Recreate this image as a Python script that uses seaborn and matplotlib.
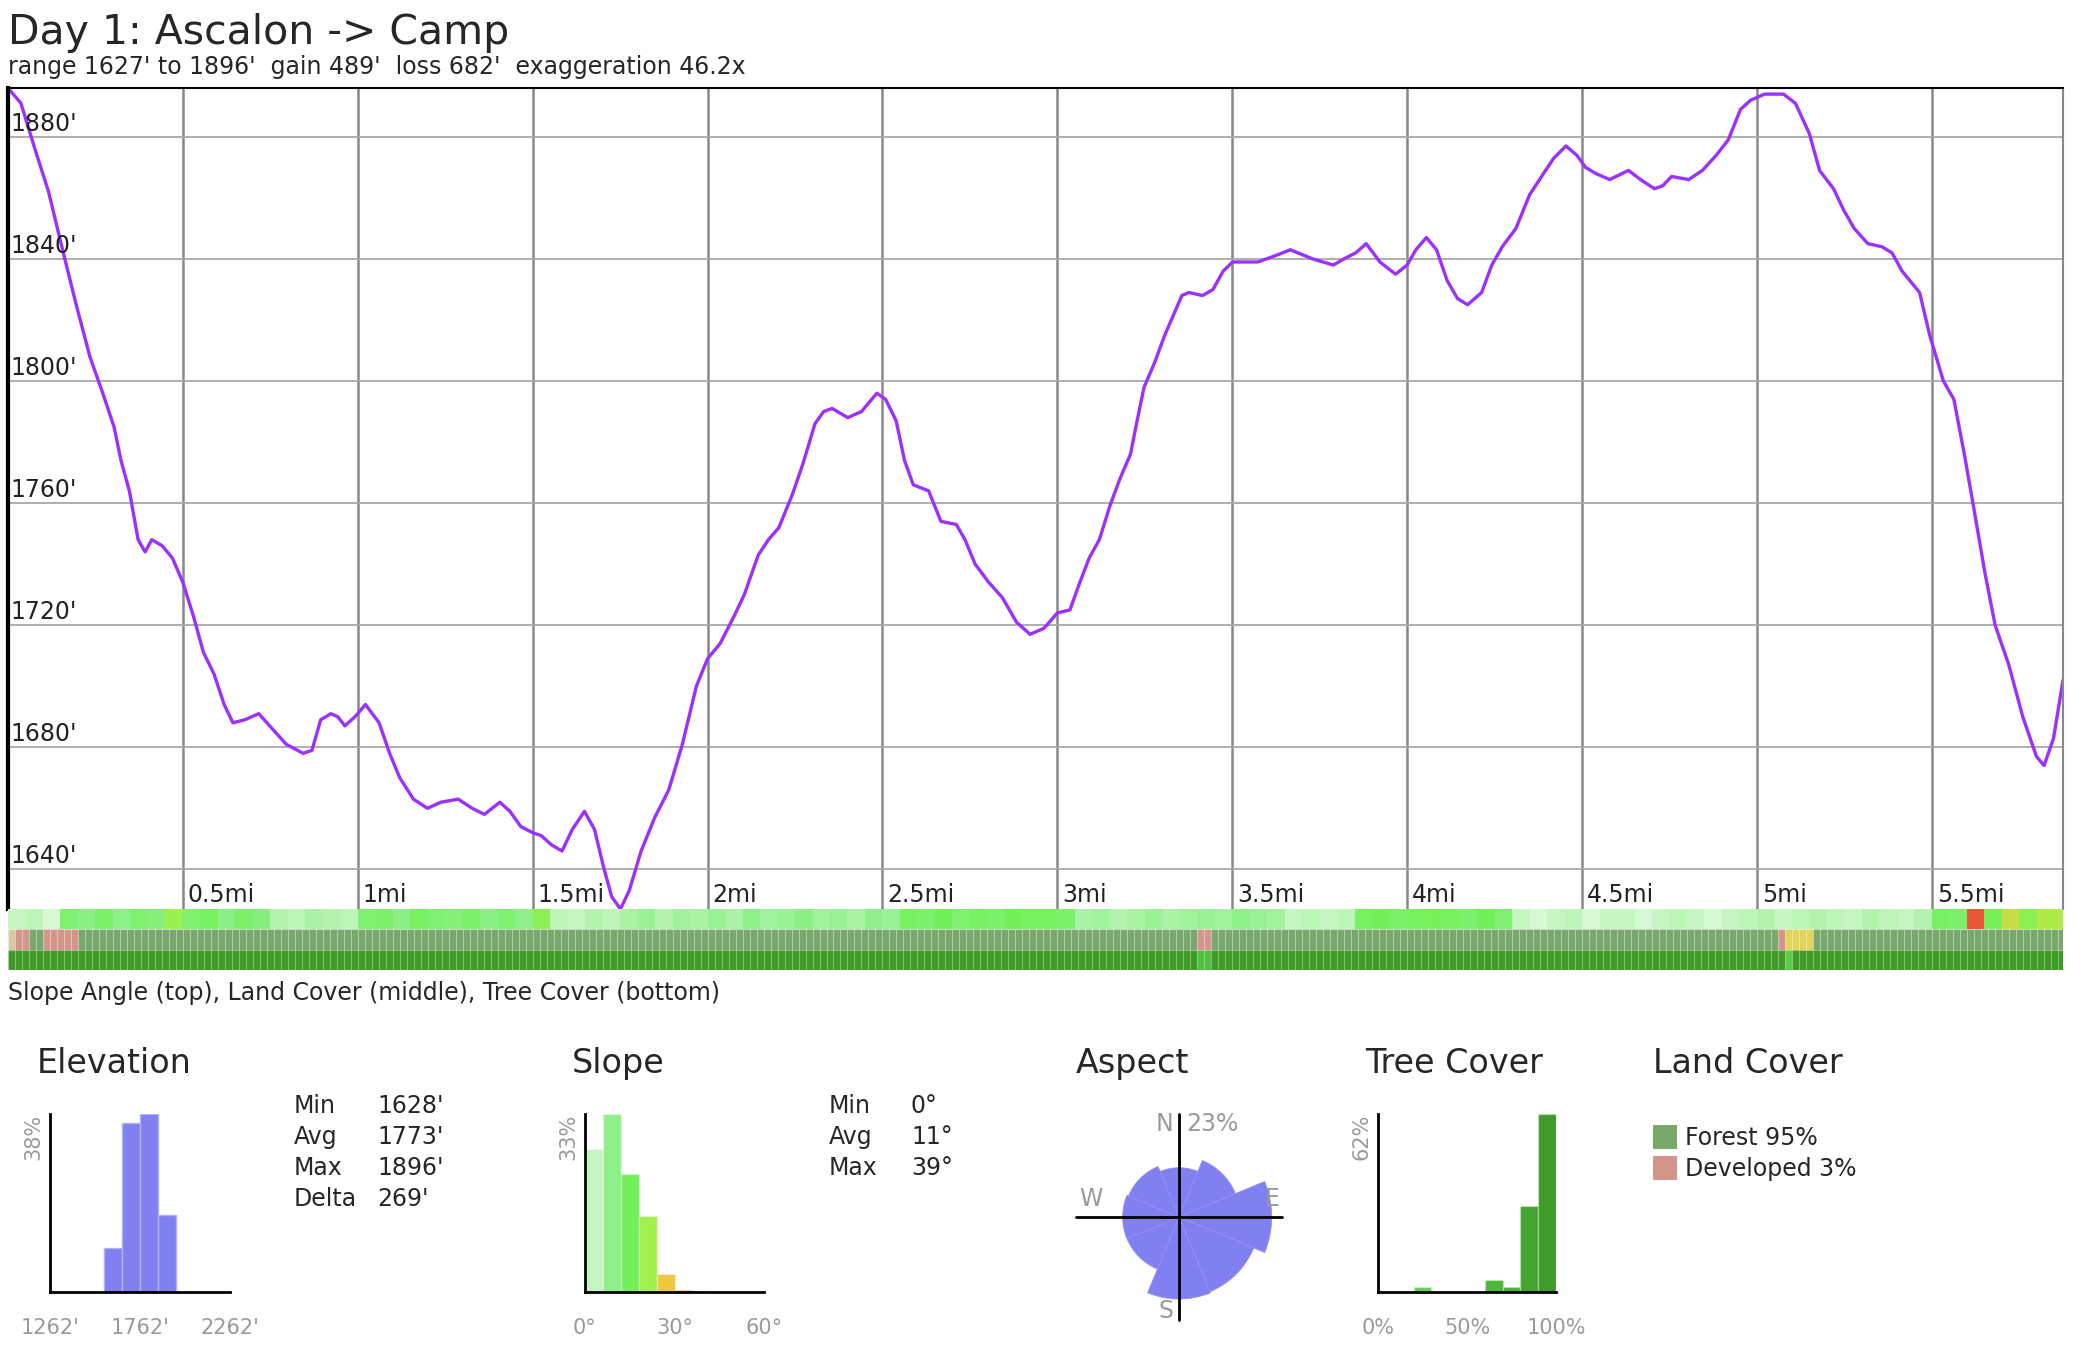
import numpy as np
import matplotlib
matplotlib.use("Agg")
import matplotlib.pyplot as plt
import matplotlib.colors as mcolors
from matplotlib.patches import Rectangle
import seaborn as sns

# ---- elevation profile (miles, feet) ----
dist = [0.000, 0.037, 0.077, 0.116, 0.156, 0.195, 0.234, 0.274, 0.303, 0.323,
        0.347, 0.372, 0.392, 0.411, 0.441, 0.470, 0.500, 0.530, 0.559, 0.589,
        0.618, 0.643, 0.677, 0.717, 0.756, 0.795, 0.844, 0.869, 0.894, 0.923,
        0.943, 0.963, 0.992, 1.022, 1.061, 1.091, 1.120, 1.159, 1.199, 1.238,
        1.287, 1.327, 1.362, 1.406, 1.435, 1.466, 1.500, 1.525, 1.554, 1.584,
        1.613, 1.648, 1.677, 1.702, 1.726, 1.751, 1.776, 1.810, 1.849, 1.889,
        1.928, 1.968, 2.000, 2.036, 2.076, 2.105, 2.145, 2.174, 2.204, 2.243,
        2.273, 2.307, 2.332, 2.356, 2.401, 2.440, 2.484, 2.509, 2.539, 2.563,
        2.588, 2.632, 2.667, 2.711, 2.736, 2.765, 2.804, 2.843, 2.883, 2.922,
        2.962, 3.000, 3.036, 3.061, 3.091, 3.120, 3.150, 3.179, 3.209, 3.228,
        3.248, 3.278, 3.307, 3.337, 3.356, 3.376, 3.415, 3.445, 3.474, 3.501,
        3.573, 3.622, 3.666, 3.730, 3.789, 3.819, 3.853, 3.883, 3.922, 3.967,
        4.000, 4.025, 4.055, 4.084, 4.114, 4.144, 4.173, 4.213, 4.242, 4.272,
        4.311, 4.350, 4.390, 4.419, 4.454, 4.485, 4.510, 4.539, 4.579, 4.633,
        4.667, 4.707, 4.731, 4.756, 4.805, 4.844, 4.884, 4.918, 4.953, 4.982,
        5.022, 5.076, 5.110, 5.150, 5.179, 5.219, 5.248, 5.278, 5.317, 5.357,
        5.386, 5.415, 5.465, 5.494, 5.533, 5.563, 5.593, 5.622, 5.652, 5.681,
        5.720, 5.760, 5.799, 5.821, 5.848, 5.875]
elev = [1896, 1891, 1876, 1862, 1843, 1825, 1808, 1795, 1785, 1774,
        1764, 1748, 1744, 1748, 1746, 1742, 1734, 1723, 1711, 1704,
        1694, 1688, 1689, 1691, 1686, 1681, 1678, 1679, 1689, 1691,
        1690, 1687, 1690, 1694, 1688, 1678, 1670, 1663, 1660, 1662,
        1663, 1660, 1658, 1662, 1659, 1654, 1652, 1651, 1648, 1646,
        1653, 1659, 1653, 1641, 1631, 1627, 1633, 1646, 1657, 1666,
        1681, 1700, 1709, 1714, 1723, 1730, 1743, 1748, 1752, 1763,
        1773, 1786, 1790, 1791, 1788, 1790, 1796, 1794, 1787, 1774,
        1766, 1764, 1754, 1753, 1748, 1740, 1734, 1729, 1721, 1717,
        1719, 1724, 1725, 1733, 1742, 1748, 1759, 1768, 1776, 1787,
        1798, 1806, 1815, 1823, 1828, 1829, 1828, 1830, 1836, 1839,
        1839, 1841, 1843, 1840, 1838, 1840, 1842, 1845, 1839, 1835,
        1838, 1843, 1847, 1843, 1833, 1827, 1825, 1829, 1838, 1844,
        1850, 1861, 1868, 1873, 1877, 1874, 1870, 1868, 1866, 1869,
        1866, 1863, 1864, 1867, 1866, 1869, 1874, 1879, 1889, 1892,
        1894, 1894, 1891, 1881, 1869, 1863, 1856, 1850, 1845, 1844,
        1842, 1836, 1829, 1815, 1800, 1794, 1776, 1757, 1737, 1720,
        1707, 1690, 1677, 1674, 1683, 1702]

title = "Day 1: Ascalon -> Camp"
subtitle = "range 1627' to 1896'  gain 489'  loss 682'  exaggeration 46.2x"
caption = "Slope Angle (top), Land Cover (middle), Tree Cover (bottom)"
total_mi = 5.875
elev_lo, elev_hi = 1627, 1896
y_ticks = [1640, 1680, 1720, 1760, 1800, 1840, 1880]
x_ticks = [0.5, 1.0, 1.5, 2.0, 2.5, 3.0, 3.5, 4.0, 4.5, 5.0, 5.5]
x_tick_labels = ["0.5mi", "1mi", "1.5mi", "2mi", "2.5mi", "3mi",
                 "3.5mi", "4mi", "4.5mi", "5mi", "5.5mi"]

# ---- strips under the profile ----
slope_step = 0.05  # miles per slope cell
slope_deg = [3, 4, 2, 12, 10, 13, 9, 12, 11, 20,
             12, 14, 10, 13, 11, 5, 4, 6, 5, 4,
             12, 13, 10, 14, 12, 11, 13, 10, 12, 9,
             18, 4, 3, 5, 4, 6, 8, 5, 7, 6,
             8, 6, 9, 7, 8, 10, 7, 8, 6, 9,
             8, 14, 13, 15, 12, 14, 13, 15, 14, 14,
             13, 6, 7, 5, 6, 8, 6, 7, 8, 7,
             9, 8, 7, 3, 4, 3, 4, 14, 15, 13,
             14, 16, 14, 13, 15, 12, 3, 2, 3, 4,
             2, 3, 3, 2, 3, 4, 3, 2, 3, 4,
             5, 3, 4, 5, 4, 3, 5, 4, 3, 5,
             14, 13, 36, 16, 24, 18, 22, 22]

land_step = 0.02
land_default = "Forest"
land_start = [0.000, 0.015, 0.110, 3.390, 5.070, 5.090]
land_end = [0.015, 0.055, 0.210, 3.430, 5.090, 5.150]
land_class = ["Grassland", "Developed", "Developed", "Developed", "Developed", "Shrub"]
land_colors = {"Forest": "#78a86c", "Developed": "#d4968a",
               "Grassland": "#d8c8a4", "Shrub": "#e2d65a"}

tree_default = 96
tree_start = [3.390, 5.080]
tree_end = [3.430, 5.110]
tree_value = [55, 35]

# ---- summary panels ----
elev_edges = [1562, 1662, 1762, 1862, 1962]
elev_pct = [9.5, 36.0, 38.0, 16.5]
elev_stats = [("Min", "1628'"), ("Avg", "1773'"), ("Max", "1896'"), ("Delta", "269'")]

slope_edges = [0, 6, 12, 18, 24, 30, 36, 42]
slope_pct = [26.6, 33.0, 21.8, 14.0, 3.4, 0.3, 0.2]
slope_stats = [("Min", "0°"), ("Avg", "11°"), ("Max", "39°")]

aspect_dirs = ["N", "NE", "E", "SE", "S", "SW", "W", "NW"]
aspect_deg = [0, 45, 90, 135, 180, 225, 270, 315]
aspect_pct = [6.5, 10.0, 23.0, 17.5, 18.0, 8.5, 8.5, 8.0]

tree_edges = [0, 10, 20, 30, 40, 50, 60, 70, 80, 90, 100]
tree_pct = [0, 0, 1.7, 0, 0, 0, 4.1, 1.7, 29.8, 62.0]

legend_labels = ["Forest 95%", "Developed 3%"]
legend_colors = ["#78a86c", "#d4968a"]

# ---------------------------------------------------------------
sns.set_style("white")
plt.rcParams["font.family"] = ["DejaVu Sans"]

W, H = 2080, 1372
fig = plt.figure(figsize=(W / 100, H / 100), dpi=100)


def rect(x0, y0, x1, y1):
    # pixel box (top-left origin) -> figure fraction
    return [x0 / W, 1 - y1 / H, (x1 - x0) / W, (y1 - y0) / H]


slope_cmap = mcolors.LinearSegmentedColormap.from_list(
    "slope", [(0, "#f4fef2"), (3 / 45, "#c5f5c0"), (9 / 45, "#8ef088"),
              (15 / 45, "#72f05a"), (21 / 45, "#a2f04c"), (27 / 45, "#f0c840"),
              (33 / 45, "#f08040"), (39 / 45, "#e03030"), (1, "#c01818")])
slope_norm = mcolors.Normalize(0, 45)
tree_cmap = mcolors.LinearSegmentedColormap.from_list(
    "tree", [(0, "#d8f4cc"), (0.25, "#5ed24e"), (0.65, "#4cb83a"), (1, "#3d9626")])

# ---- main profile ----
ax = fig.add_axes(rect(8, 88, 2063, 909))
sns.lineplot(x=dist, y=elev, ax=ax, color="#9b30ff", linewidth=2.4, sort=False)
ax.set_xlim(0, total_mi)
ax.set_ylim(elev_lo, elev_hi)
ax.set_xticks(x_ticks)
ax.set_yticks(y_ticks)
ax.set_xticklabels([])
ax.set_yticklabels([])
ax.tick_params(length=0)
ax.set_xlabel("")
ax.set_ylabel("")
ax.grid(axis="y", color="#a8a8a8", linewidth=1.3)
ax.grid(axis="x", color="#888888", linewidth=1.8)
ax.set_axisbelow(True)
ax.spines["top"].set(color="black", linewidth=1.5)
ax.spines["left"].set(color="black", linewidth=3)
ax.spines["right"].set(color="#888888", linewidth=1.5)
ax.spines["bottom"].set_visible(False)
for v in y_ticks:
    ax.annotate(f"{v}'", (0, v), xytext=(2, 4.5), textcoords="offset points",
                ha="left", va="baseline", fontsize=17, color="#222222")
for v, lab in zip(x_ticks, x_tick_labels):
    ax.annotate(lab, (v, elev_lo), xytext=(3.5, 5), textcoords="offset points",
                ha="left", va="baseline", fontsize=17, color="#222222")

fig.text(8 / W, 1 - 44 / H, title, fontsize=29.5, ha="left", va="baseline")
fig.text(8 / W, 1 - 74 / H, subtitle, fontsize=17, ha="left", va="baseline")
fig.text(8 / W, 1 - 1000 / H, caption, fontsize=17, ha="left", va="baseline")

# ---- strips ----
sx = fig.add_axes(rect(8, 909, 2063, 970))
sx.set_xlim(0, total_mi)
sx.set_ylim(0, 3)
sx.axis("off")

slope_x = [i * slope_step for i in range(len(slope_deg))]
sx.bar(slope_x, 1, width=slope_step, bottom=2, align="edge",
       color=[slope_cmap(slope_norm(s)) for s in slope_deg], linewidth=0)

n_land = int(np.ceil(total_mi / land_step))
cell_x = [i * land_step for i in range(n_land)]
cell_land, cell_tree = [], []
for x0 in cell_x:
    c = x0 + land_step / 2
    cls = land_default
    for a, b, k in zip(land_start, land_end, land_class):
        if a <= c < b:
            cls = k
    cell_land.append(land_colors[cls])
    t = tree_default
    for a, b, k in zip(tree_start, tree_end, tree_value):
        if a <= c < b:
            t = k
    cell_tree.append(tree_cmap(t / 100))
sx.bar(cell_x, 1, width=land_step, bottom=1, align="edge", color=cell_land,
       edgecolor=(1, 1, 1, 0.28), linewidth=0.5)
sx.bar(cell_x, 1, width=land_step, bottom=0, align="edge", color=cell_tree,
       edgecolor=(1, 1, 1, 0.18), linewidth=0.5)

# ---- bottom panels ----
gray = "#9a9a9a"


def hist_panel(box, edges, pct, colors, xlabels, ylabel, edgecolor):
    hx = fig.add_axes(rect(*box))
    centers = [(a + b) / 2 for a, b in zip(edges[:-1], edges[1:])]
    sns.histplot(x=centers, weights=pct, bins=edges, ax=hx, alpha=1,
                 color=colors[0], edgecolor=edgecolor, linewidth=1)
    for p, c in zip(hx.patches, colors):
        p.set_facecolor(c)
    hx.set_ylim(0, max(pct))
    hx.set_xticks([v for v, _ in xlabels])
    hx.set_xticklabels([l for _, l in xlabels], fontsize=15, color=gray)
    hx.set_xlim(xlabels[0][0], xlabels[-1][0])
    hx.tick_params(axis="x", length=0, pad=19)
    hx.set_yticks([])
    hx.set_xlabel("")
    hx.set_ylabel("")
    for s in ["top", "right"]:
        hx.spines[s].set_visible(False)
    for s in ["left", "bottom"]:
        hx.spines[s].set(color="black", linewidth=2)
    hx.text(-0.035, 1.0, ylabel, transform=hx.transAxes, rotation=90,
            ha="right", va="top", fontsize=15, color=gray)
    return hx


def stats_block(x_lab, x_val, rows):
    for i, (k, v) in enumerate(rows):
        y = 1 - (1113 + 31 * i) / H
        fig.text(x_lab / W, y, k, fontsize=17, va="baseline")
        fig.text(x_val / W, y, v, fontsize=17, va="baseline")


panel_title_y = 1 - 1073 / H
fig.text(37 / W, panel_title_y, "Elevation", fontsize=24, va="baseline")
hist_panel((50, 1114, 230, 1292), elev_edges, elev_pct, ["#8080f0"] * len(elev_pct),
           [(1262, "1262'"), (1762, "1762'"), (2262, "2262'")], "38%", "#b0b0ff")
stats_block(294, 377, elev_stats)

fig.text(572 / W, panel_title_y, "Slope", fontsize=24, va="baseline")
slope_bar_colors = [slope_cmap(slope_norm((a + b) / 2))
                    for a, b in zip(slope_edges[:-1], slope_edges[1:])]
hist_panel((585, 1114, 764, 1292), slope_edges, slope_pct, slope_bar_colors,
           [(0, "0°"), (30, "30°"), (60, "60°")], "33%", (1, 1, 1, 0.3))
stats_block(829, 911, slope_stats)

fig.text(1076 / W, panel_title_y, "Aspect", fontsize=24, va="baseline")
px = fig.add_axes(rect(1076, 1114, 1282, 1320), projection="polar")
px.set_theta_zero_location("N")
px.set_theta_direction(-1)
top = max(aspect_pct)
px.bar(np.deg2rad(aspect_deg), [0.9 * np.sqrt(p / top) for p in aspect_pct],
       width=np.deg2rad(45), color="#8080f0", edgecolor="#9090f6", linewidth=0.6)
for t in [0, 90, 180, 270]:
    px.plot([np.deg2rad(t)] * 2, [0, 1], color="black", linewidth=2, clip_on=False)
px.set_rlim(0, 1)
px.axis("off")


def polar_text(x, y, s, **kw):
    px.text(np.arctan2(x, y), np.hypot(x, y), s, fontsize=17, color=gray,
            va="center", **kw)


polar_text(-0.05, 0.9, "N", ha="right")
polar_text(0.07, 0.9, f"{top:.0f}%", ha="left")
polar_text(-0.86, 0.17, "W", ha="center")
polar_text(0.9, 0.17, "E", ha="center")
polar_text(-0.05, -0.91, "S", ha="right")

fig.text(1365 / W, panel_title_y, "Tree Cover", fontsize=24, va="baseline")
tree_bar_colors = [tree_cmap(((a + b) / 2) / 100)
                   for a, b in zip(tree_edges[:-1], tree_edges[1:])]
hist_panel((1378, 1114, 1556, 1292), tree_edges, tree_pct, tree_bar_colors,
           [(0, "0%"), (50, "50%"), (100, "100%")], "62%", (1, 1, 1, 0.3))

fig.text(1653 / W, panel_title_y, "Land Cover", fontsize=24, va="baseline")
for i, (lab, col) in enumerate(zip(legend_labels, legend_colors)):
    y0 = 1125 + 31 * i
    fig.patches.append(Rectangle((1653 / W, 1 - (y0 + 24) / H), 24 / W, 24 / H,
                                 transform=fig.transFigure, facecolor=col,
                                 edgecolor="none"))
    fig.text(1685 / W, 1 - (y0 + 20) / H, lab, fontsize=17, va="baseline")

fig.savefig("out.png", dpi=100)
